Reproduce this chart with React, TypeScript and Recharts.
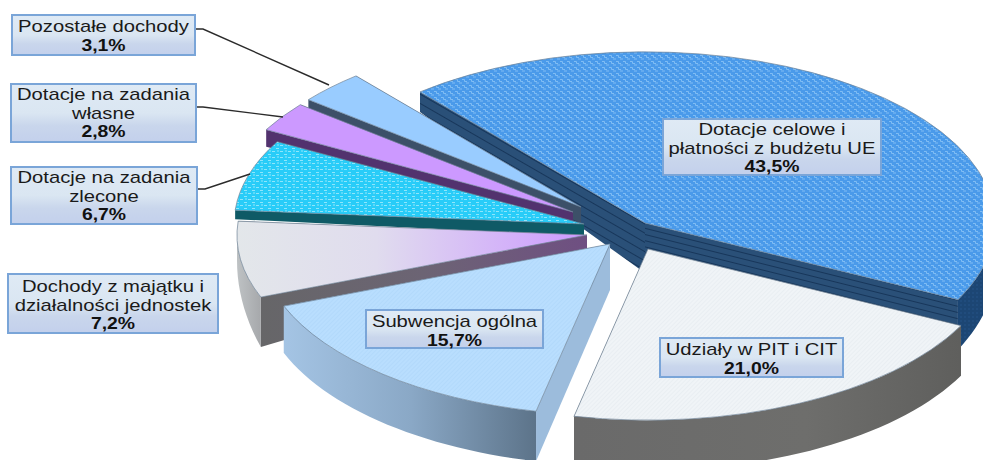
import React from 'react';
import { PieChart, Pie } from 'recharts';

const categoryLines = [
  ['Dotacje celowe i', 'płatności z budżetu UE'],
  ['Pozostałe dochody'],
  ['Dotacje na zadania', 'własne'],
  ['Dotacje na zadania', 'zlecone'],
  ['Dochody z majątku i', 'działalności jednostek'],
  ['Subwencja ogólna'],
  ['Udziały w PIT i CIT'],
];
const shares = [43.5, 3.1, 2.8, 6.7, 7.2, 15.7, 21.0];

const pieData = shares.map((value, i) => ({ name: categoryLines[i].join(' '), value }));

const CX = 600;
const CY = 228;
const RX = 350;
const SQUASH = 0.489;

// explode offset of each apex, wall depths, and paints
const looks = [
  { dx: 45, dy: -5, apex: 50, dS: 50, dE: 20, top: 'url(#pBig)', wS: 'url(#pStripeB)', wE: 'url(#pStripeA)', rim: 'url(#pBigRim)' },
  { dx: -19, dy: -21, apex: 16, dS: 5, dE: 9, top: '#99ccff', wS: '#3c5068', wE: '#3c5068', rim: '#3c5068' },
  { dx: -27, dy: -16, apex: 10, dS: 10, dE: 17, top: '#cc99ff', wS: '#52326e', wE: '#52326e', rim: '#52326e' },
  { dx: -16, dy: -4, apex: 12, dS: 8, dE: 9, top: 'url(#pCyan)', wS: '#0f5a66', wE: '#0f5a66', rim: '#0f5a66' },
  { dx: -13, dy: 7, apex: 15, dS: 20, dE: 50, top: 'url(#gDoch)', wS: '#666', wE: 'url(#gDochWall)', rim: 'url(#gDochRim)' },
  { dx: 10, dy: 16, apex: 46, dS: 47, dE: 50, top: 'url(#pSub)', wS: '#9cbcdc', wE: '#9cbcdc', rim: 'url(#gSubRim)' },
  { dx: 48, dy: 21, apex: 50, dS: 50, dE: 50, top: 'url(#pUdz)', wS: '#666', wE: '#666', rim: 'url(#gUdzRim)' },
];

const boxes = [
  { x: 663, y: 119, w: 218, h: 56, base: 135 },
  { x: 12, y: 15, w: 183, h: 40, base: 32, leader: '195,29 203,29 329,85' },
  { x: 11, y: 84, w: 185, h: 58, base: 100, leader: '196,107 203,107 283,117' },
  { x: 11, y: 167, w: 186, h: 57, base: 183, leader: '197,189 205,189 250,174' },
  { x: 8, y: 274, w: 210, h: 59, base: 292 },
  { x: 366, y: 310, w: 177, h: 38, base: 327 },
  { x: 660, y: 338, w: 183, h: 39, base: 355 },
];

function SliceShape(props: any) {
  const { cx, cy, outerRadius, startAngle, endAngle, index } = props;
  const look = looks[index];
  const ax = cx + look.dx;
  const ay = cy + look.dy;
  const b = outerRadius * SQUASH;
  const s = Math.min(startAngle, endAngle);
  const e = Math.max(startAngle, endAngle);
  const pt = (deg: number): [number, number] => {
    const r = (deg * Math.PI) / 180;
    return [ax + outerRadius * Math.cos(r), ay - b * Math.sin(r)];
  };
  const depthAt = (deg: number) => look.dS + ((look.dE - look.dS) * (deg - s)) / (e - s);
  const [sx, sy] = pt(s);
  const [ex, ey] = pt(e);
  const topPath = `M${ax},${ay} L${sx},${sy} A${outerRadius},${b} 0 0 0 ${ex},${ey} Z`;
  const wallStart = `M${ax},${ay} L${sx},${sy} L${sx},${sy + look.dS} L${ax},${ay + look.apex} Z`;
  const wallEnd = `M${ax},${ay} L${ex},${ey} L${ex},${ey + look.dE} L${ax},${ay + look.apex} Z`;

  const ranges: [number, number][] = [
    [Math.max(s, -180), Math.min(e, 0)],
    [Math.max(s, 180), Math.min(e, 360)],
  ];
  const rims = ranges
    .filter(([lo, hi]) => hi > lo)
    .map(([lo, hi]) => {
      const upper: string[] = [];
      const lower: string[] = [];
      const steps = Math.ceil((hi - lo) / 2);
      for (let i = 0; i <= steps; i++) {
        const d = lo + ((hi - lo) * i) / steps;
        const [x, y] = pt(d);
        upper.push(`${x},${y}`);
        lower.unshift(`${x},${y + depthAt(d)}`);
      }
      return upper.concat(lower).join(' ');
    });

  return (
    <g>
      <path d={wallStart} fill={look.wS} />
      <path d={wallEnd} fill={look.wE} />
      {rims.map((p, i) => (
        <polygon key={i} points={p} fill={look.rim} />
      ))}
      <path d={topPath} fill={look.top} stroke="#6f8296" strokeWidth={0.7} />
    </g>
  );
}

function BoxLabel(props: any) {
  const i = props.index;
  const box = boxes[i];
  const lines = categoryLines[i];
  const pct = shares[i].toFixed(1).replace('.', ',') + '%';
  const mid = box.x + box.w / 2;
  return (
    <g>
      {box.leader && <polyline points={box.leader} fill="none" stroke="#2b2b2b" strokeWidth={1.4} />}
      <rect x={box.x} y={box.y} width={box.w} height={box.h} fill="url(#gBox)" stroke="#7aa5d8" strokeWidth={2} />
      {lines.map((t, k) => (
        <text
          key={k}
          transform={`translate(${mid} ${box.base + k * 18.5}) scale(1.19 1)`}
          textAnchor="middle"
          fontFamily="Liberation Sans"
          fontSize={17}
          fill="#1a1a1a"
        >
          {t}
        </text>
      ))}
      <text
        transform={`translate(${mid} ${box.base + lines.length * 18.5}) scale(1.14 1)`}
        textAnchor="middle"
        fontFamily="Liberation Sans"
        fontSize={17}
        fontWeight="bold"
        fill="#111"
      >
        {pct}
      </text>
    </g>
  );
}

function Paints() {
  return (
    <svg width={0} height={0} style={{ position: 'absolute' }}>
      <defs>
        <linearGradient id="gBox" x1="0" y1="0" x2="0" y2="1">
          <stop offset="0" stopColor="#dfeaf5" />
          <stop offset="0.5" stopColor="#dae6f2" />
          <stop offset="0.72" stopColor="#c9d6ec" />
          <stop offset="1" stopColor="#c3d0ec" />
        </linearGradient>
        <pattern id="pBig" width="7" height="6" patternUnits="userSpaceOnUse">
          <rect width="7" height="6" fill="#4a9aea" />
          <path d="M0,1.5 h2.5 v2 h2.5 M4,5 h3" stroke="#80bdf4" strokeWidth="1" fill="none" />
        </pattern>
        <pattern id="pCyan" width="8" height="6" patternUnits="userSpaceOnUse">
          <rect width="8" height="6" fill="#28ccf8" />
          <path d="M0,1.5 h3 M4,4.5 h3 M6,0 v2" stroke="#8fe6fb" strokeWidth="1" fill="none" />
        </pattern>
        <pattern id="pStripeA" width="8" height="8" patternUnits="userSpaceOnUse" patternTransform="rotate(30)">
          <rect width="8" height="8" fill="#2a5078" />
          <rect y="7" width="8" height="1" fill="#17365a" />
        </pattern>
        <pattern id="pStripeB" width="8" height="6" patternUnits="userSpaceOnUse" patternTransform="rotate(14)">
          <rect width="8" height="6" fill="#2a5078" />
          <rect y="5" width="8" height="1" fill="#17365a" />
        </pattern>
        <pattern id="pBigRim" width="4" height="4" patternUnits="userSpaceOnUse">
          <rect width="4" height="4" fill="#1c4674" />
          <circle cx="1" cy="1" r="0.7" fill="#27578c" />
        </pattern>
        <pattern id="pSub" width="3" height="3" patternUnits="userSpaceOnUse" patternTransform="rotate(45)">
          <rect width="3" height="3" fill="#b9defe" />
          <rect width="1" height="3" fill="#b2d9fb" />
        </pattern>
        <pattern id="pUdz" width="3" height="3" patternUnits="userSpaceOnUse" patternTransform="rotate(45)">
          <rect width="3" height="3" fill="#f0f4f7" />
          <rect width="1" height="3" fill="#e9eef2" />
        </pattern>
        <linearGradient id="gDoch" gradientUnits="userSpaceOnUse" x1="236" y1="0" x2="587" y2="0">
          <stop offset="0" stopColor="#e3e7ea" />
          <stop offset="0.4" stopColor="#e0dcee" />
          <stop offset="1" stopColor="#cc99ff" />
        </linearGradient>
        <linearGradient id="gDochWall" gradientUnits="userSpaceOnUse" x1="260" y1="0" x2="587" y2="0">
          <stop offset="0" stopColor="#666668" />
          <stop offset="0.5" stopColor="#6c6474" />
          <stop offset="1" stopColor="#6f4f82" />
        </linearGradient>
        <linearGradient id="gDochRim" gradientUnits="userSpaceOnUse" x1="236" y1="0" x2="262" y2="0">
          <stop offset="0" stopColor="#bfc3c5" />
          <stop offset="1" stopColor="#a5a7aa" />
        </linearGradient>
        <linearGradient id="gSubRim" gradientUnits="userSpaceOnUse" x1="285" y1="0" x2="537" y2="0">
          <stop offset="0" stopColor="#a4c4e4" />
          <stop offset="0.5" stopColor="#8aa8c6" />
          <stop offset="1" stopColor="#5c7389" />
        </linearGradient>
        <linearGradient id="gUdzRim" gradientUnits="userSpaceOnUse" x1="575" y1="0" x2="960" y2="0">
          <stop offset="0" stopColor="#6a6a6a" />
          <stop offset="0.6" stopColor="#6e6e6c" />
          <stop offset="1" stopColor="#5f5f5d" />
        </linearGradient>
      </defs>
    </svg>
  );
}

export default function App() {
  return (
    <div style={{ position: 'absolute', left: 0, top: 0, width: 983, height: 460, overflow: 'hidden', background: '#fff' }}>
      <Paints />
      <PieChart width={983} height={460} margin={{ top: 0, right: 0, bottom: 0, left: 0 }}>
        <Pie
          data={pieData}
          dataKey="value"
          nameKey="name"
          cx={CX}
          cy={CY}
          innerRadius={0}
          outerRadius={RX}
          startAngle={-26.6}
          endAngle={333.4}
          paddingAngle={0}
          stroke="none"
          isAnimationActive={false}
          shape={SliceShape}
          inactiveShape={SliceShape}
          activeShape={SliceShape}
          label={BoxLabel}
          labelLine={false}
        />
      </PieChart>
    </div>
  );
}
